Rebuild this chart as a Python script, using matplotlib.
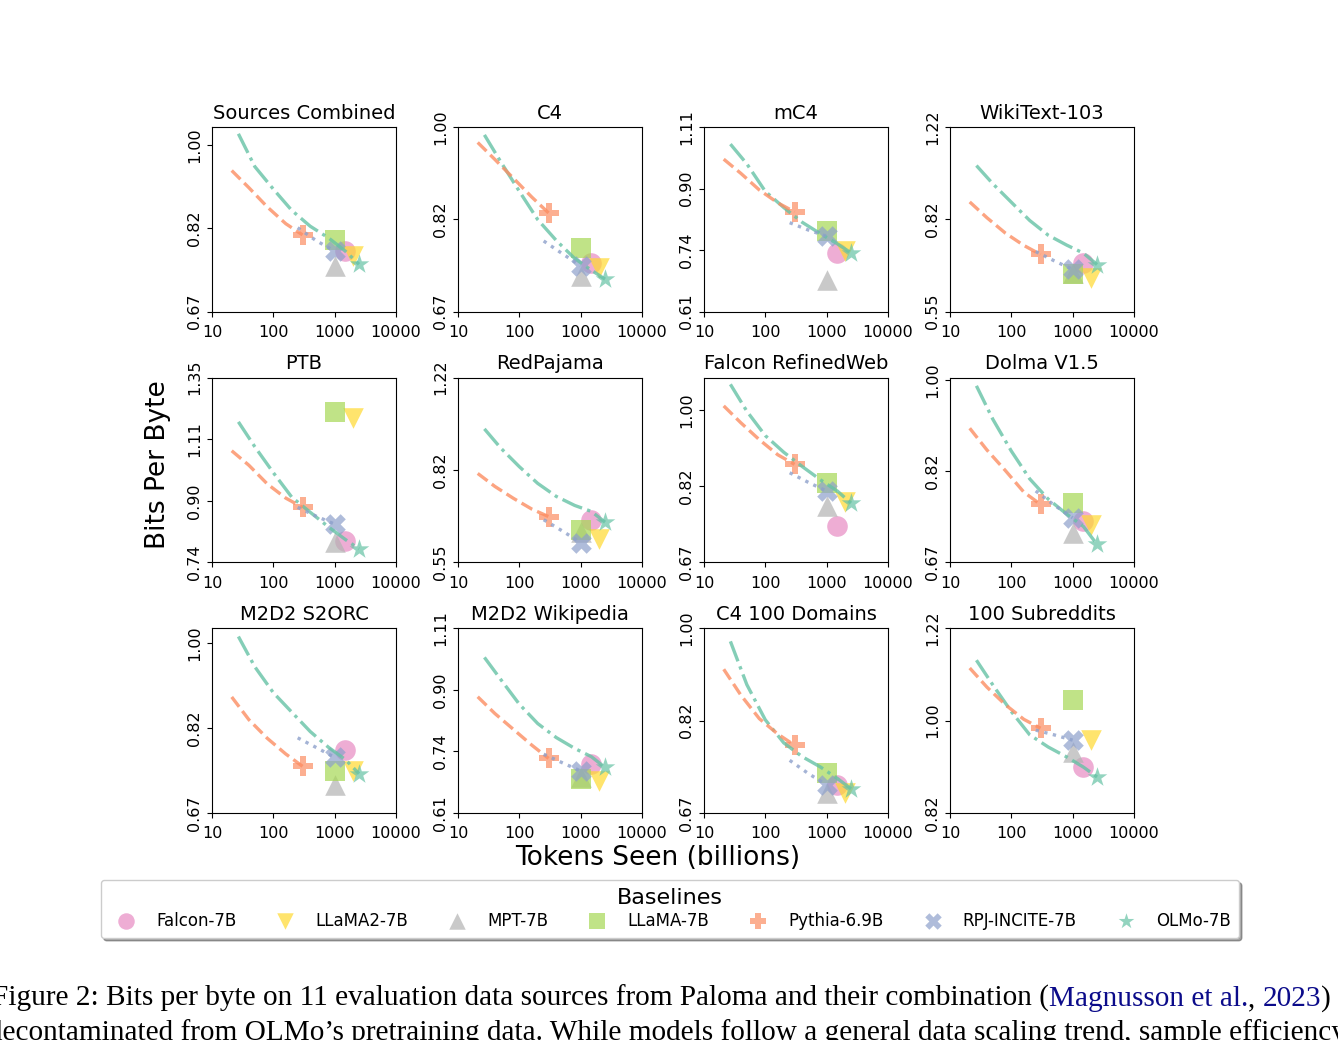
import numpy as np
import matplotlib
matplotlib.use('Agg')
import matplotlib.pyplot as plt
from matplotlib.ticker import NullLocator, NullFormatter

# panels (evaluation sources)
panels = ['Sources Combined', 'C4', 'mC4', 'WikiText-103',
          'PTB', 'RedPajama', 'Falcon RefinedWeb', 'Dolma V1.5',
          'M2D2 S2ORC', 'M2D2 Wikipedia', 'C4 100 Domains', '100 Subreddits']

# y range and tick labels per panel
ylims = [(0.67, 1.045), (0.67, 1.00), (0.61, 1.11), (0.55, 1.22),
         (0.74, 1.35), (0.55, 1.22), (0.67, 1.089), (0.67, 1.006),
         (0.67, 1.036), (0.61, 1.11), (0.67, 1.00), (0.82, 1.22)]
ytick_labels = [['0.67', '0.82', '1.00'], ['0.67', '0.82', '1.00'],
                ['0.61', '0.74', '0.90', '1.11'], ['0.55', '0.82', '1.22'],
                ['0.74', '0.90', '1.11', '1.35'], ['0.55', '0.82', '1.22'],
                ['0.67', '0.82', '1.00'], ['0.67', '0.82', '1.00'],
                ['0.67', '0.82', '1.00'], ['0.61', '0.74', '0.90', '1.11'],
                ['0.67', '0.82', '1.00'], ['0.82', '1.00', '1.22']]

# final checkpoints (tokens seen, billions)
models = ['Falcon-7B', 'LLaMA2-7B', 'MPT-7B', 'LLaMA-7B', 'Pythia-6.9B', 'RPJ-INCITE-7B', 'OLMo-7B']
model_tokens = [1500, 2000, 1000, 1000, 300, 1000, 2500]
falcon_bpb = [0.775, 0.744, 0.738, 0.679, 0.794, 0.659, 0.738, 0.733, 0.778, 0.715, 0.712, 0.905]
llama2_bpb = [0.766, 0.736, 0.742, 0.637, 1.185, 0.609, 0.785, 0.728, 0.740, 0.677, 0.700, 0.959]
mpt_bpb = [0.748, 0.724, 0.677, 0.650, 0.790, 0.628, 0.777, 0.714, 0.715, 0.686, 0.700, 0.935]
llama_bpb = [0.797, 0.770, 0.792, 0.646, 1.207, 0.633, 0.826, 0.764, 0.739, 0.681, 0.731, 1.045]
pythia_bpb = [0.806, 0.830, 0.843, 0.704, 0.885, 0.670, 0.867, 0.761, 0.748, 0.728, 0.776, 0.984]
rpj_bpb = [0.775, 0.740, 0.779, 0.660, 0.838, 0.599, 0.808, 0.739, 0.764, 0.699, 0.712, 0.959]
olmo_bpb = [0.751, 0.719, 0.738, 0.674, 0.773, 0.654, 0.783, 0.697, 0.735, 0.707, 0.706, 0.886]

# intermediate checkpoints
olmo_ckpt = [27, 50, 100, 200, 400, 800, 1500, 2500]
olmo_curve = [
    [1.028, 0.950, 0.900, 0.855, 0.823, 0.800, 0.775, 0.751],
    [0.983, 0.927, 0.870, 0.818, 0.782, 0.752, 0.733, 0.719],
    [1.050, 0.985, 0.901, 0.855, 0.815, 0.785, 0.760, 0.738],
    [1.033, 0.955, 0.882, 0.815, 0.765, 0.733, 0.708, 0.674],
    [1.169, 1.078, 0.991, 0.915, 0.871, 0.830, 0.797, 0.773],
    [0.978, 0.900, 0.831, 0.773, 0.731, 0.703, 0.685, 0.654],
    [1.070, 0.997, 0.935, 0.895, 0.862, 0.832, 0.808, 0.783],
    [0.988, 0.918, 0.856, 0.805, 0.770, 0.745, 0.725, 0.697],
    [1.016, 0.946, 0.890, 0.850, 0.812, 0.782, 0.760, 0.735],
    [1.010, 0.940, 0.868, 0.815, 0.779, 0.752, 0.732, 0.707],
    [0.972, 0.885, 0.820, 0.780, 0.757, 0.740, 0.722, 0.706],
    [1.139, 1.080, 1.020, 0.970, 0.945, 0.925, 0.905, 0.886],
]
pythia_ckpt = [21, 40, 80, 160, 300]
pythia_curve = [
    [0.941, 0.903, 0.862, 0.828, 0.806],
    [0.967, 0.932, 0.895, 0.859, 0.830],
    [1.000, 0.955, 0.905, 0.868, 0.843],
    [0.883, 0.825, 0.772, 0.732, 0.704],
    [1.064, 1.015, 0.955, 0.912, 0.885],
    [0.807, 0.763, 0.725, 0.692, 0.670],
    [1.011, 0.967, 0.925, 0.889, 0.867],
    [0.900, 0.858, 0.820, 0.782, 0.761],
    [0.881, 0.835, 0.799, 0.770, 0.748],
    [0.889, 0.842, 0.800, 0.760, 0.728],
    [0.915, 0.865, 0.822, 0.795, 0.776],
    [1.120, 1.075, 1.035, 1.003, 0.984],
]
rpj_ckpt = [250, 500, 1000]
rpj_curve = [
    [0.820, 0.795, 0.775],
    [0.781, 0.760, 0.740],
    [0.814, 0.795, 0.779],
    [0.713, 0.685, 0.660],
    [0.885, 0.860, 0.838],
    [0.661, 0.630, 0.599],
    [0.848, 0.827, 0.808],
    [0.784, 0.760, 0.739],
    [0.800, 0.782, 0.764],
    [0.738, 0.718, 0.699],
    [0.751, 0.730, 0.712],
    [0.980, 0.970, 0.959],
]

final_bpb = [falcon_bpb, llama2_bpb, mpt_bpb, llama_bpb, pythia_bpb, rpj_bpb, olmo_bpb]
markers = ['o', 'v', '^', 's', 'P', 'X', '*']
colors = ['#e78ac3', '#ffd92f', '#b3b3b3', '#a6d854', '#fc8d62', '#8da0cb', '#66c2a5']

fig = plt.figure(figsize=(13.38, 10.4), dpi=100)
axes = fig.subplots(3, 4)
fig.subplots_adjust(left=0.1584, right=0.8475, top=0.8779, bottom=0.2183,
                    wspace=0.337, hspace=0.357)

handles = []
for i, ax in enumerate(axes.flat):
    ax.plot(olmo_ckpt, olmo_curve[i], ls='-.', color=colors[6], lw=2.4, alpha=0.8)
    ax.plot(pythia_ckpt, pythia_curve[i], ls='--', color=colors[4], lw=2.4, alpha=0.8)
    ax.plot(rpj_ckpt, rpj_curve[i], ls=':', color=colors[5], lw=2.4, alpha=0.8)
    for m in range(len(models)):
        sc = ax.scatter(model_tokens[m], final_bpb[m][i], marker=markers[m], s=220,
                        color=colors[m], alpha=0.7, label=models[m], linewidths=0)
        if i == 0:
            handles.append(sc)
    ax.set_xscale('log')
    ax.set_yscale('log')
    ax.set_xlim(10, 10000)
    ax.set_xticks([10, 100, 1000, 10000], ['10', '100', '1000', '10000'])
    ax.set_ylim(*ylims[i])
    labs = ytick_labels[i]
    ax.set_yticks(np.geomspace(float(labs[0]), float(labs[-1]), len(labs)))
    ax.set_yticklabels(labs, rotation=90, va='center')
    for axis in (ax.xaxis, ax.yaxis):
        axis.set_minor_locator(NullLocator())
        axis.set_minor_formatter(NullFormatter())
    ax.tick_params(labelsize=11.5)
    ax.tick_params(axis='x', pad=6)
    ax.set_title(panels[i], fontsize=14)

fig.text(658 / 1338, 1 - 858 / 1040, 'Tokens Seen (billions)', ha='center', va='center', fontsize=19)
fig.text(158 / 1338, 1 - 465 / 1040, 'Bits Per Byte', ha='center', va='center',
         rotation=90, fontsize=19)

leg = fig.legend(handles, models, loc='center', bbox_to_anchor=(670 / 1338, 1 - 909 / 1040),
                 ncol=7, fontsize=12, title='Baselines', title_fontsize=16,
                 shadow=True, markerscale=0.8, columnspacing=1.95, handletextpad=0.8,
                 borderpad=0.5, labelspacing=0.2)

# caption below the figure, cut by the edges like the reference
cap = fig.add_axes([0, 0, 1, 1], zorder=-1)
cap.axis('off')
cap.set_xlim(0, 1)
cap.set_ylim(0, 1)
cap_font = dict(fontfamily='Liberation Serif', fontsize=21.1)
navy = '#0b0b8a'
t = cap.text(-0.006, 0.027, 'Figure 2: Bits per byte on 11 evaluation data sources from Paloma '
             'and their combination (', va='bottom', ha='left', **cap_font)
t = cap.annotate('Magnusson et al.', xy=(1, 0), xycoords=t, va='bottom', ha='left',
                 color=navy, **cap_font)
t = cap.annotate(',', xy=(1, 0), xycoords=t, va='bottom', ha='left', **cap_font)
t = cap.annotate('2023', xy=(1, 0), xycoords=t, xytext=(5, 0), textcoords='offset points',
                 va='bottom', ha='left', color=navy, **cap_font)
t = cap.annotate(')', xy=(1, 0), xycoords=t, va='bottom', ha='left', **cap_font)
cap.text(-0.009, -0.006, 'decontaminated from OLMo\u2019s pretraining data. While models follow '
         'a general data scaling trend, sample efficiency', va='bottom', ha='left', **cap_font)

fig.savefig('out.png', dpi=100)
